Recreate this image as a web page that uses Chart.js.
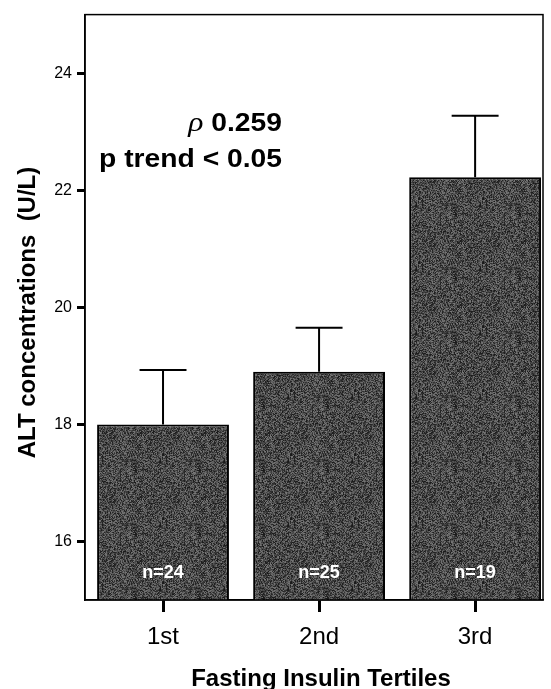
<!DOCTYPE html>
<html>
<head>
<meta charset="utf-8">
<script src="https://cdn.jsdelivr.net/npm/chart.js@4.4.0/dist/chart.umd.min.js"></script>
<style>
  html, body { margin: 0; padding: 0; background: #fff; }
</style>
</head>
<body>
<canvas id="chart" width="551" height="689"></canvas>
<script>
// datos
const tertiles = ['1st', '2nd', '3rd'];
const altMean = [18.0, 18.9, 22.22];
const altUpper = [18.93, 19.65, 23.27];
const groupN = ['n=24', 'n=25', 'n=19'];
const yTicks = [16, 18, 20, 22, 24];
const yMin = 15;
const yMax = 25;
const rhoValue = '0.259';
const trendText = 'p trend < 0.05';
const yTitle = 'ALT concentrations  (U/L)';
const xTitle = 'Fasting Insulin Tertiles';

const FONT = "'Liberation Sans', Arial, sans-serif";
Chart.defaults.font.family = FONT;
Chart.defaults.color = '#000';

// textura gris de las barras (deterministica)
function makeTexture() {
  const c = document.createElement('canvas');
  c.width = 64; c.height = 64;
  const g = c.getContext('2d');
  const img = g.createImageData(64, 64);
  let s = 12345;
  for (let i = 0; i < 64 * 64; i++) {
    s = (s * 1103515245 + 12345) & 0x7fffffff;
    const v = 25 + ((s >> 16) % 96);
    img.data[i * 4] = v;
    img.data[i * 4 + 1] = v;
    img.data[i * 4 + 2] = v;
    img.data[i * 4 + 3] = 255;
  }
  g.putImageData(img, 0, 0);
  return c;
}

const ctx0 = document.getElementById('chart').getContext('2d');
const texture = ctx0.createPattern(makeTexture(), 'repeat');

const extras = {
  id: 'extras',
  afterDatasetsDraw(chart) {
    const { ctx, scales: { x, y } } = chart;
    const meta = chart.getDatasetMeta(0);
    ctx.save();
    // barras de error
    ctx.strokeStyle = '#000';
    ctx.lineWidth = 2;
    altMean.forEach((v, i) => {
      const cx = x.getPixelForValue(i + 1);
      const y0 = y.getPixelForValue(v);
      const y1 = y.getPixelForValue(altUpper[i]);
      const half = meta.data[i].width * 0.178;
      ctx.beginPath();
      ctx.moveTo(cx, y0);
      ctx.lineTo(cx, y1);
      ctx.moveTo(cx - half, y1);
      ctx.lineTo(cx + half, y1);
      ctx.stroke();
    });
    // etiquetas n
    ctx.fillStyle = '#fff';
    ctx.font = 'bold 18px ' + FONT;
    ctx.textAlign = 'center';
    ctx.textBaseline = 'alphabetic';
    groupN.forEach((t, i) => {
      ctx.fillText(t, x.getPixelForValue(i + 1), y.getPixelForValue(yMin) - 22);
    });
    ctx.restore();
  },
  afterDraw(chart) {
    const { ctx, chartArea } = chart;
    ctx.save();
    ctx.strokeStyle = '#000';
    ctx.lineWidth = 1.5;
    ctx.strokeRect(chartArea.left, chartArea.top, chartArea.right - chartArea.left, chartArea.bottom - chartArea.top);

    // anotacion rho / p trend
    ctx.fillStyle = '#000';
    const rx = chartArea.left + 197;
    ctx.save();
    ctx.translate(rx, 131);
    ctx.scale(1.13, 1);
    ctx.textAlign = 'right';
    ctx.font = 'bold 25px ' + FONT;
    const numTxt = ' ' + rhoValue;
    ctx.fillText(numTxt, 0, 0);
    const w = ctx.measureText(numTxt).width;
    ctx.font = "italic 28px 'Liberation Serif', serif";
    ctx.fillText('\u03C1', -w, 0);
    ctx.restore();
    ctx.save();
    ctx.translate(rx, 167);
    ctx.scale(1.13, 1);
    ctx.textAlign = 'right';
    ctx.font = 'bold 25px ' + FONT;
    ctx.fillText(trendText, 0, 0);
    ctx.restore();

    // titulos de ejes
    ctx.font = 'bold 24px ' + FONT;
    ctx.textAlign = 'center';
    ctx.fillText(xTitle, 321, 685.5);
    ctx.translate(35, 312.5);
    ctx.rotate(-Math.PI / 2);
    ctx.fillText(yTitle, 0, 0);
    ctx.restore();
  }
};

new Chart(ctx0, {
  type: 'bar',
  data: {
    datasets: [{
      data: altMean.map((v, i) => ({ x: i + 1, y: v })),
      base: yMin,
      backgroundColor: texture,
      borderColor: '#000',
      borderWidth: 2,
      categoryPercentage: 1,
      barPercentage: 0.845
    }]
  },
  options: {
    responsive: false,
    animation: false,
    devicePixelRatio: 1,
    layout: { padding: { top: 8, right: 8, left: 0, bottom: 0 } },
    plugins: { legend: { display: false }, tooltip: { enabled: false } },
    scales: {
      x: {
        type: 'linear',
        min: 0.5,
        max: 3.435,
        offset: false,
        afterBuildTicks: s => { s.ticks = tertiles.map((_, i) => ({ value: i + 1 })); },
        afterFit: s => { s.height = 89; },
        ticks: {
          callback: v => tertiles[v - 1],
          font: { size: 24 },
          color: '#000',
          padding: 11,
          maxRotation: 0,
          autoSkip: false
        },
        grid: { offset: false, drawOnChartArea: false, drawTicks: true, tickLength: 12, tickWidth: 3, tickColor: '#000' },
        border: { display: true, color: '#000', width: 1.5 }
      },
      y: {
        min: yMin,
        max: yMax,
        afterBuildTicks: s => { s.ticks = yTicks.map(v => ({ value: v })); },
        afterFit: s => { s.width = 85; },
        ticks: { font: { size: 16 }, color: '#000', padding: 5 },
        grid: { drawOnChartArea: false, drawTicks: true, tickLength: 8, tickWidth: 3, tickColor: '#000' },
        border: { display: true, color: '#000', width: 1.5 }
      }
    }
  },
  plugins: [extras]
});
</script>
</body>
</html>
